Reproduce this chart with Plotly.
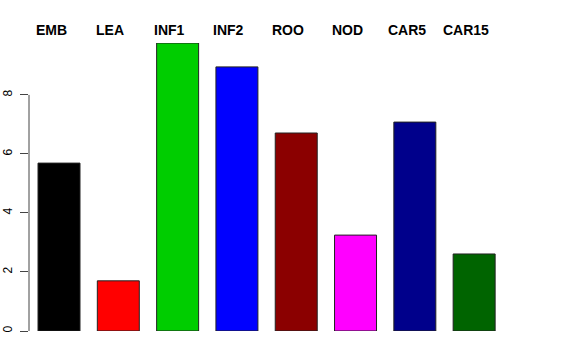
import plotly.graph_objects as go

categories = ["EMB", "LEA", "INF1", "INF2", "ROO", "NOD", "CAR5", "CAR15"]
values = [5.69, 1.70, 9.76, 8.95, 6.71, 3.25, 7.08, 2.61]
colors = ["#000000", "#FF0000", "#00CD00", "#0000FF", "#8B0000", "#FF00FF", "#00008B", "#006400"]
y_ticks = [0, 2, 4, 6, 8]

xpos = list(range(len(categories)))

fig = go.Figure()
fig.add_trace(go.Bar(
    x=xpos, y=values, width=0.708,
    marker=dict(color=colors, line=dict(color="#222222", width=1)),
    hoverinfo="skip", showlegend=False,
))

for i, c in enumerate(categories):
    fig.add_annotation(x=xpos[i], y=1, xref="x", yref="paper", text="<b>%s</b>" % c,
                       showarrow=False, xshift=-8, yshift=13, yanchor="middle",
                       font=dict(family="Liberation Sans, Arial", size=14, color="black"))

# R-style axis line spanning first to last tick
fig.add_shape(type="line", xref="paper", yref="y", x0=0, x1=0, y0=y_ticks[0], y1=y_ticks[-1],
              line=dict(color="#444444", width=1))

fig.update_layout(
    width=576, height=360,
    margin=dict(l=29, r=55, t=43, b=29),
    plot_bgcolor="white", paper_bgcolor="white",
    xaxis=dict(range=[-0.506, 7.79], showticklabels=False, ticks="", showgrid=False,
               zeroline=False, showline=False, automargin=False),
    yaxis=dict(range=[0, 9.76], tickvals=y_ticks, ticktext=[str(v) for v in y_ticks],
               ticks="outside", ticklen=8, tickcolor="#444444", tickangle=-90,
               showgrid=False, zeroline=False, showline=False, automargin=False,
               tickfont=dict(family="Liberation Sans, Arial", size=12, color="black"),
               ticklabelstandoff=3),
    font=dict(family="Liberation Sans, Arial"),
)

fig.write_html(
    "out.html",
    config={"displayModeBar": False, "staticPlot": True},
    post_script="document.body.style.margin='0';document.body.style.overflow='hidden';",
)
